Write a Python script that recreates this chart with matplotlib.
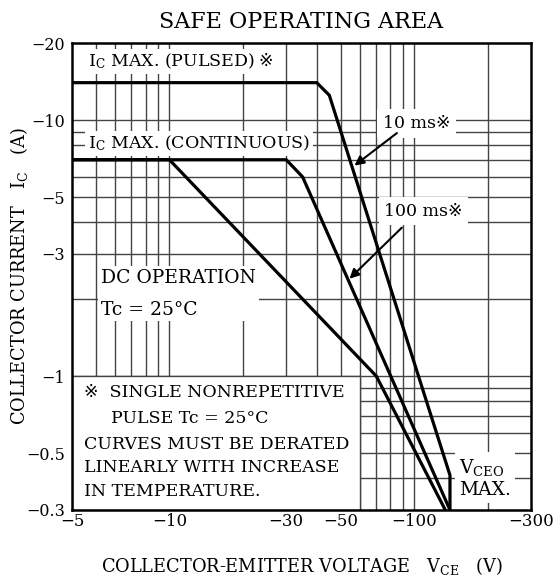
import matplotlib.pyplot as plt
from matplotlib.patches import Rectangle
from matplotlib.ticker import FixedLocator, FixedFormatter, NullLocator

plt.rcParams['font.family'] = ['DejaVu Serif', 'DejaVu Sans']
plt.rcParams['mathtext.fontset'] = 'dejavuserif'

# Curves, magnitudes: collector-emitter voltage (V) and collector current (A)
pulsed_v = [4, 40, 45, 140, 140]
pulsed_i = [14, 14, 12.5, 0.41, 0.3]
ms100_v = [4, 30, 35, 140]
ms100_i = [7, 7, 6.0, 0.3]
dc_v = [4, 10, 70, 134]
dc_i = [7, 7, 1.0, 0.3]

x_ticks = [4, 10, 30, 50, 100, 300]
x_tick_labels = ['−5', '−10', '−30', '−50', '−100', '−300']
y_ticks = [0.3, 0.5, 1, 3, 5, 10, 20]
y_tick_labels = ['−0.3', '−0.5', '−1', '−3', '−5', '−10', '−20']
x_grid = [5, 6, 7, 8, 9, 10, 20, 30, 40, 50, 60, 70, 80, 90, 100, 200]
y_grid = [0.4, 0.5, 0.6, 0.7, 0.8, 0.9, 1, 2, 3, 4, 5, 6, 7, 8, 9, 10]

GRID = '#444444'


def main():
    fig = plt.figure(figsize=(5.56, 5.81), dpi=100)
    ax = fig.add_axes([72 / 556, 1 - 510 / 581, 459 / 556, 467 / 581])
    ax.set_xscale('log')
    ax.set_yscale('log')
    ax.set_xlim(4, 300)
    ax.set_ylim(0.3, 20)

    for v in x_grid:
        ax.axvline(v, color=GRID, lw=1.0, zorder=1)
    for i in y_grid:
        ax.axhline(i, color=GRID, lw=1.0, zorder=1)

    # white note area in the lower left, bounded by grid lines
    ax.add_patch(Rectangle((4, 0.3), 60 - 4, 1.0 - 0.3, facecolor='white',
                           edgecolor=GRID, lw=1.0, zorder=2))

    for xs, ys in [(pulsed_v, pulsed_i), (ms100_v, ms100_i), (dc_v, dc_i)]:
        ax.plot(xs, ys, color='black', lw=2.3, solid_joinstyle='miter', zorder=4)

    box = dict(facecolor='white', edgecolor='none', pad=2)
    fs = 12.5
    t = ax.text(4.65, 16.9, r'I$_{\rm C}$ MAX. (PULSED)', fontsize=fs,
                va='center', ha='left', bbox=box, zorder=3)
    ax.annotate('※', xy=(1, 0.5), xycoords=t, xytext=(3, 0),
                textcoords='offset points', fontsize=fs, va='center', ha='left',
                bbox=box, zorder=3)
    ax.text(4.65, 8.1, r'I$_{\rm C}$ MAX. (CONTINUOUS)', fontsize=fs,
            va='center', ha='left', bbox=box, zorder=3)
    ax.text(102, 9.7, '10 ms※', fontsize=fs, va='center', ha='center',
            bbox=dict(facecolor='white', edgecolor='none', pad=4), zorder=3)
    ax.text(109, 4.4, '100 ms※', fontsize=fs, va='center', ha='center',
            bbox=dict(facecolor='white', edgecolor='none', pad=4), zorder=3)
    ax.text(5.25, 2.1, 'DC OPERATION\n\nTc = 25°C', fontsize=13.5, va='center',
            ha='left', linespacing=0.85, bbox=box, zorder=3)

    ax.annotate('', xy=(57, 6.64), xytext=(85, 8.9),
                arrowprops=dict(arrowstyle='-|>', color='black', lw=1.5,
                                mutation_scale=14, shrinkA=0, shrinkB=0), zorder=5)
    ax.annotate('', xy=(54.4, 2.4), xytext=(89, 3.8),
                arrowprops=dict(arrowstyle='-|>', color='black', lw=1.5,
                                mutation_scale=14, shrinkA=0, shrinkB=0), zorder=5)

    notes = [(4.47, 0.865, '※  SINGLE NONREPETITIVE'),
             (5.75, 0.686, 'PULSE Tc = 25°C'),
             (4.47, 0.54, 'CURVES MUST BE DERATED'),
             (4.47, 0.44, 'LINEARLY WITH INCREASE'),
             (4.47, 0.355, 'IN TEMPERATURE.')]
    for x, y, s in notes:
        ax.text(x, y, s, fontsize=fs, va='center', ha='left', zorder=3)

    ax.text(152, 0.40, 'V$_{\\rm CEO}$\nMAX.', fontsize=13.5, va='center',
            ha='left', linespacing=1.25,
            bbox=dict(facecolor='white', edgecolor='none', pad=3), zorder=3)

    ax.xaxis.set_major_locator(FixedLocator(x_ticks))
    ax.xaxis.set_major_formatter(FixedFormatter(x_tick_labels))
    ax.xaxis.set_minor_locator(NullLocator())
    ax.yaxis.set_major_locator(FixedLocator(y_ticks))
    ax.yaxis.set_major_formatter(FixedFormatter(y_tick_labels))
    ax.yaxis.set_minor_locator(NullLocator())
    ax.tick_params(axis='x', length=0, labelsize=12, pad=2)
    ax.tick_params(axis='y', length=0, labelsize=11.5, pad=5)

    for sp in ax.spines.values():
        sp.set_linewidth(1.8)
        sp.set_zorder(6)

    ax.set_title('SAFE OPERATING AREA', fontsize=16, pad=11)
    ax.set_xlabel('COLLECTOR-EMITTER VOLTAGE   V$_{\\rm CE}$   (V)', fontsize=12.8,
                  labelpad=18)
    ax.set_ylabel('COLLECTOR CURRENT   I$_{\\rm C}$   (A)', fontsize=12.8)
    ax.yaxis.set_label_coords(-0.092, 0.5)

    fig.savefig('out.png', dpi=100)


if __name__ == '__main__':
    main()
